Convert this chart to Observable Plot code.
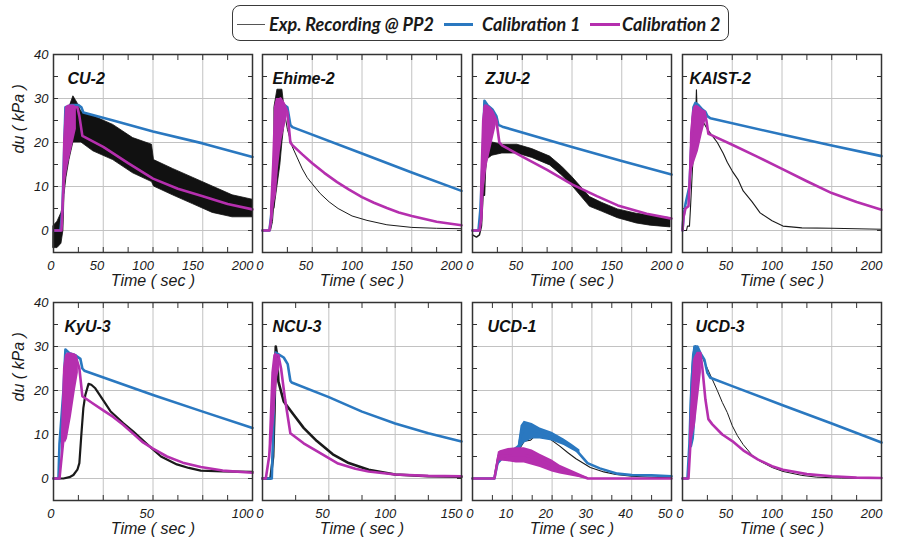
<!DOCTYPE html>
<html><head><meta charset="utf-8">
<script src="https://cdn.jsdelivr.net/npm/d3@7"></script>
<script src="https://cdn.jsdelivr.net/npm/@observablehq/plot@0.6"></script>
<style>
body{margin:0;background:#fff;}
#root{position:relative;width:898px;height:543px;overflow:hidden;font-family:"Liberation Sans",Arial,sans-serif;}
#root svg{position:absolute;overflow:visible;}
#legend{position:absolute;left:232px;top:5px;width:495px;height:34px;border:1.5px solid #3a3a3a;border-radius:8px;}
.sw{position:absolute;height:0;}
.lt{position:absolute;top:6px;font-family:Lato,"Open Sans",sans-serif;font-weight:bold;font-style:italic;font-size:18px;color:#1a1a1a;white-space:nowrap;line-height:24px;}
</style></head><body><div id="root"><div id="legend"></div></div><script>
// ---------------- series names / colours ----------------
const seriesNames = ["Exp. Recording @ PP2", "Calibration 1", "Calibration 2"];
const seriesColors = ["#555555", "#2a78c0", "#b52fae"];

// ---------------- axis ticks ----------------
const yTickLabels = [0, 10, 20, 30, 40];
const yGridVals = [0, 10, 20, 30];
const yMinor = [-5, 0, 5, 10, 15, 20, 25, 30, 35, 40];
const ticks200 = [0, 50, 100, 150, 200];
const grid200 = [50, 100, 150];
const minor200 = [0, 25, 50, 75, 100, 125, 150, 175, 200];
const ticks100 = [0, 50, 100];
const grid100 = [25, 50, 75];
const minor100 = [0, 12.5, 25, 37.5, 50, 62.5, 75, 87.5, 100];
const ticks150 = [0, 50, 100, 150];
const grid150 = [50, 100];
const minor150 = [0, 25, 50, 75, 100, 125, 150];
const ticks50 = [0, 10, 20, 30, 40, 50];
const grid50 = [10, 20, 30, 40];
const minor50 = [0, 5, 10, 15, 20, 25, 30, 35, 40, 45, 50];

// ---------------- CU-2 ----------------
const cu2ExpBand = [[0,-4,1],[4,-4,2],[8,-3,4],[10,0,6],[11,8,15],[13,12,22],[16,16,28],[20,20,30.5],[24,20,29],[28,20,27],[40,18,26],[60,16,24],[80,13,21],[99,11,19.5],[101,10,16],[120,8,14],[140,6,12],[160,4,10],[180,3,8],[200,3,7]];
const cu2Cal1 = [[0,0],[7,0],[9,5],[12,28],[18,28.5],[25,28.5],[28,28],[30,26.8],[60,25],[100,22.5],[150,19.8],[200,16.7]];
const cu2Cal2Band = [[9,2,5],[10,5,20],[12,11,28],[15,15,28.5],[18,18,28.5],[21,21,28.5],[23,23,28]];
const cu2Cal2 = [[0,0],[8,0],[11,15],[13,22],[16,27],[20,28],[24,28],[26,26],[29,21.5],[50,19],[75,15.3],[100,11.8],[125,9.5],[150,7.8],[175,6],[200,4.8]];

// ---------------- Ehime-2 ----------------
const ehExpBand = [[12,5,28],[15,10,32],[18,15,32],[20,20,32],[22,24,28]];
const ehExp = [[0,0],[8,0],[10,2],[12,8],[22,27],[25,23],[30,19],[35,16.5],[40,14],[45,12],[50,10.6],[58,8.4],[67,6.5],[76,5],[90,3.3],[105,2.3],[125,1.3],[150,0.7],[175,0.5],[200,0.4]];
const ehCal1 = [[0,0],[7,0],[9,4],[11,12],[14,29],[18,29],[22,28.5],[25,28],[28,24],[30,23.5],[100,17.5],[150,13.2],[200,9]];
const ehCal2Band = [[8,1,5],[10,3,15],[12,6,28],[14,8,30],[16,14,30],[18,18,30],[20,21,29.5],[23,24,28.5],[25,26,27]];
const ehCal2 = [[0,0],[7,0],[9,3],[11,10],[14,29],[18,30],[21,29],[25,27],[28,20],[30,19.4],[40,17.3],[50,15.3],[62,13.1],[75,11],[87,9.3],[100,7.6],[112,6.3],[125,5.1],[137,4.1],[150,3.3],[175,2],[200,1.2]];

// ---------------- ZJU-2 ----------------
const zjExp = [[0,-1],[4,-1.5],[7,-1],[9,1],[11,10],[12,8],[13,14],[15,18]];
const zjExpBand = [[14,16,19],[20,17,20],[30,17.5,19.5],[45,17.5,19.5],[60,16.5,18.5],[78,14.8,16.8],[90,12.5,14.5],[100,10.2,12.2],[118,5.4,7.6],[130,4.3,6.3],[146,2.8,4.8],[165,1.6,3.8],[179,1.1,3.4],[199,0.7,2.8]];
const zjCal1 = [[0,0],[6,0],[8,5],[10,15],[12,29.5],[15,28.5],[20,27.5],[24,26],[26,24],[30,23.6],[100,19],[150,15.8],[200,12.7]];
const zjCal2Band = [[8,1,10],[10,5,25],[12,10,28.5],[15,15,28.5],[18,18,28],[21,21,27],[24,24,25.5]];
const zjCal2 = [[0,0],[7,0],[9,3],[11,20],[12,28],[16,28],[20,27],[24,25],[27,20],[30,19.3],[50,16.8],[75,13.8],[100,10.5],[125,7.8],[146,5.7],[175,3.8],[200,2.7]];

// ---------------- KAIST-2 ----------------
const kaExp = [[0,0],[4,0],[5,1],[7,1],[8,5],[10,14],[12,20],[13,24],[14,32],[15,25],[16,28],[18,26.5],[20,25],[25,23],[30,21.5],[35,20],[41,17.5],[45,15.5],[50,13.5],[56,11.5],[61,9],[70,6.5],[78,4],[90,2.2],[101,1],[120,0.6],[150,0.5],[200,0.3]];
const kaCal1 = [[0,0],[1,3],[3,6],[5,8],[7,10],[9,20],[11,28],[13,29],[16,28.5],[20,27.5],[23,27],[25,26],[28,25.5],[100,21.8],[150,19.3],[200,16.9]];
const kaCal2Band = [[7,6,10],[8,10,22],[10,14,27],[13,16,28.5],[16,18,28.3],[20,22,27.5],[24,25.5,27]];
const kaCal2 = [[0,0],[1,3],[3,5],[6,5.5],[8,15],[10,25],[12,28],[15,28],[20,27],[22,27],[24,25],[26,22],[28,21.8],[50,19.5],[75,16.8],[100,14],[125,11.2],[150,8.5],[175,6.5],[200,4.7]];

// ---------------- KyU-3 ----------------
const kyExp = [[0,0],[5,0],[8,0.3],[10,0.8],[12,2],[13,3.5],[14,10],[15,16],[16,19],[17.6,21.5],[19,21.3],[21,20.5],[23.6,18.7],[28.6,15.3],[35,12.6],[40,10.7],[47,7.8],[54,5],[62,3.2],[68,2.4],[74,1.8],[85,1.6],[100,1.5]];
const kyCal1 = [[0,0],[2.5,0],[3,7.8],[5,20],[6,29.3],[8,28.5],[11,28],[13.5,27.2],[14.5,25],[15.5,24.5],[50,19],[75,15.2],[100,11.5]];
const kyCal2Band = [[4,2,10],[5,9,25],[6,8,28],[7,9,28.5],[9,14,28.5],[11,20,28.3],[12.5,24,27]];
const kyCal2 = [[0,0],[3,0],[5,9],[6,20],[7,27],[9,28],[11,28],[13,25],[14.5,18.7],[20,17],[25,15.5],[30,14],[35,12.2],[40,10.2],[45,8.2],[50,6.8],[57,5],[65,3.6],[74,2.6],[85,1.8],[100,1.3]];

// ---------------- NCU-3 ----------------
const ncExp = [[0,0],[6,0],[8,5],[9,15],[10,30],[11,28],[12,22],[16,17.5],[23.5,14.5],[31,11.5],[41,8.5],[53,5.5],[65,3.5],[80,2],[100,0.9],[125,0.5],[150,0.4]];
const ncCal1 = [[0,0],[7,0],[8,10],[9,22],[10,28.6],[16,27.5],[19,26],[21,22.2],[22,21.8],[50,18.5],[75,15.2],[100,12.5],[125,10.3],[150,8.4]];
const ncCal2Band = [[5,3,8],[7,8,24],[8.5,12,28],[10,18,28.5],[11.5,23,28],[13,25,26]];
const ncCal2 = [[0,0],[2.5,0],[5,5],[8,15],[10,28],[12,28],[14,25],[17,18],[21,10.3],[31,8],[41,6.2],[57,3.4],[70,2.2],[80,1.6],[100,0.9],[125,0.6],[150,0.5]];

// ---------------- UCD-1 ----------------
const u1Exp = [[0,0],[5.5,0],[6.2,3.2],[7,4.5],[8.7,4.8],[10,5.8],[12,7],[13,8.5],[14.6,8.7],[16,10],[18,9.5],[19.6,8.9],[22,7.3],[23.9,5.9],[26,4.5],[29.6,2.5],[33,1.5],[36,0.9],[40,0.5],[45,0.3],[50,0.2]];
const u1Cal1Band = [[5.5,0,0.5],[6.5,3,5.5],[8,4.5,6],[10,5,6.5],[11.5,5.5,7.5],[12.2,7,12],[13,8,13],[15,9,12.5],[17,9,11.5],[20,8.5,10.5],[23,7.5,9],[25,6.5,7.8],[27,5.5,6.5]];
const u1Cal1 = [[0,0],[5.5,0],[6.5,4.5],[8,5.5],[10,6],[11.5,6.5],[12.2,10],[13,11],[15,11],[17,10.5],[20,9.5],[23,8.2],[26,6.5],[28.9,3.5],[32,2.3],[36.4,1.1],[40,0.8],[45,0.7],[50,0.5]];
const u1Cal2Band = [[5.5,0,0.5],[6.5,4,6],[7,4,6.3],[9,3.8,6.8],[11,3.5,7],[13,3.5,7],[15,3,6.5],[17,2.5,5.5],[20,1.5,4.2],[22,1,3],[25,0.5,1.8],[28,0,0.6],[29,0,0.2]];
const u1Cal2 = [[0,0],[5.5,0],[6.5,5],[10,5.3],[13,5.3],[16,4.6],[20,3],[22,2.3],[25,1.2],[29,0],[50,0]];

// ---------------- UCD-3 ----------------
const u3Exp = [[0,0],[6,0],[8,10],[10,22],[12,29],[13,30.2],[16,29],[20,27.5],[25,25],[30,22.5],[35,20],[40,17.3],[45,15],[50,12],[55,9.8],[61,7.7],[70,5.3],[78,3.9],[90,2.5],[101,1.6],[120,0.7],[135,0.3],[160,0.1],[200,0]];
const u3Cal1Band = [[7,5,10],[8,7,20],[10,7,28],[12,9,30],[14,15,30],[16,22,29.5],[18,26,28.5]];
const u3Cal1 = [[0,0],[5,0],[7,8],[8,15],[10,25],[12,30],[15,30],[18,28.5],[22,27],[25,24],[28,22.9],[50,21],[100,16.7],[150,12.5],[200,8.2]];
const u3Cal2Band = [[7,3,10],[9,8,20],[11,10,27],[13,12,28],[15,16,28.5],[17,20,28.5],[19,24,27]];
const u3Cal2 = [[0,0],[6,0],[8,8],[10,18],[12,25],[15,28.5],[18,28.5],[20,25],[23,18],[26,13.5],[30,12.3],[40,10],[50,8.5],[61,6.4],[76,4.3],[90,2.8],[101,2],[125,1],[150,0.5],[175,0.2],[200,0.1]];

// ---------------- panel layout ----------------
const panels = [
  {name:"CU-2", left:53, top:54, first:true, dom:[0,200], ticks:ticks200, grid:grid200, minor:minor200, tdx:14, expBand:cu2ExpBand, exp:null, expW:1, c1:cu2Cal1, c2Band:cu2Cal2Band, c2:cu2Cal2},
  {name:"Ehime-2", left:262, top:54, dom:[0,200], ticks:ticks200, grid:grid200, minor:minor200, tdx:10, expBand:ehExpBand, exp:ehExp, expW:1, c1:ehCal1, c2Band:ehCal2Band, c2:ehCal2},
  {name:"ZJU-2", left:472, top:54, dom:[0,200], ticks:ticks200, grid:grid200, minor:minor200, tdx:13, expBand:zjExpBand, exp:zjExp, expW:1.5, c1:zjCal1, c2Band:zjCal2Band, c2:zjCal2},
  {name:"KAIST-2", left:682, top:54, dom:[0,200], ticks:ticks200, grid:grid200, minor:minor200, tdx:7, exp:kaExp, expW:1.1, c1:kaCal1, c2Band:kaCal2Band, c2:kaCal2},
  {name:"KyU-3", left:53, top:302, first:true, dom:[0,100], ticks:ticks100, grid:grid100, minor:minor100, tdx:11, exp:kyExp, expW:2.2, c1:kyCal1, c2Band:kyCal2Band, c2:kyCal2},
  {name:"NCU-3", left:262, top:302, dom:[0,150], ticks:ticks150, grid:grid150, minor:minor150, tdx:10, exp:ncExp, expW:2.6, c1:ncCal1, c2Band:ncCal2Band, c2:ncCal2},
  {name:"UCD-1", left:472, top:302, dom:[0,50], ticks:ticks50, grid:grid50, minor:minor50, tdx:15, exp:u1Exp, expW:1.1, c1Band:u1Cal1Band, c1:u1Cal1, c2Band:u1Cal2Band, c2:u1Cal2},
  {name:"UCD-3", left:682, top:302, dom:[0,200], ticks:ticks200, grid:grid200, minor:minor200, tdx:13, exp:u3Exp, expW:1, c1Band:u3Cal1Band, c1:u3Cal1, c2Band:u3Cal2Band, c2:u3Cal2}
];

const root = document.getElementById("root");
const FONT = "Liberation Sans";
const W = 199, H = 198, MT = 10, MR = 14, MB = 46;
const gridStyle = {stroke:"#c2c2c2", strokeOpacity:1, strokeWidth:1};
const tickStyle = {tickFormat:() => "", label:null, stroke:"#333", strokeWidth:1};
const fx = d => d[0], fy = d => d[1], fy1 = d => d[1], fy2 = d => d[2];

for (const p of panels) {
  const ML = p.first ? 53 : 10;
  const marks = [
    Plot.gridX(p.grid, gridStyle),
    Plot.gridY(yGridVals, gridStyle),
    Plot.axisX(p.minor, {anchor:"bottom", tickSize:5, dy:-5, ...tickStyle}),
    Plot.axisX(p.minor, {anchor:"top", tickSize:5, dy:5, ...tickStyle}),
    Plot.axisY(yMinor, {anchor:"left", tickSize:5, dx:5, ...tickStyle}),
    Plot.axisY(yMinor, {anchor:"right", tickSize:5, dx:-5, ...tickStyle}),
    Plot.axisX(p.ticks, {anchor:"bottom", tickSize:0, tickPadding:8, label:null, fontSize:13, fontStyle:"italic", fontFamily:FONT, textAnchor:"end", dx:1, fill:"#1a1a1a"}),
    p.first ? Plot.axisY(yTickLabels, {anchor:"left", tickSize:0, tickPadding:5, label:null, fontSize:13, fontStyle:"italic", fontFamily:FONT, fill:"#1a1a1a"}) : null,
    p.expBand ? Plot.areaY(p.expBand, {x:fx, y1:fy1, y2:fy2, fill:"#111", stroke:"#111", strokeWidth:0.8}) : null,
    p.exp ? Plot.line(p.exp, {x:fx, y:fy, stroke:"#1a1a1a", strokeWidth:p.expW}) : null,
    p.c1Band ? Plot.areaY(p.c1Band, {x:fx, y1:fy1, y2:fy2, fill:seriesColors[1]}) : null,
    Plot.line(p.c1, {x:fx, y:fy, stroke:seriesColors[1], strokeWidth:2.6}),
    p.c2Band ? Plot.areaY(p.c2Band, {x:fx, y1:fy1, y2:fy2, fill:seriesColors[2]}) : null,
    Plot.line(p.c2, {x:fx, y:fy, stroke:seriesColors[2], strokeWidth:2.6}),
    Plot.frame({stroke:"#333", strokeWidth:1.5}),
    Plot.text([p.name], {frameAnchor:"top-left", dx:p.tdx, dy:29, lineAnchor:"bottom", textAnchor:"start", fontWeight:"bold", fontStyle:"italic", fontSize:16, fontFamily:FONT, fill:"#111"}),
    Plot.text(["Time ( sec )"], {frameAnchor:"bottom", dy:33, fontSize:16, fontStyle:"italic", fontFamily:FONT, fill:"#1a1a1a"}),
    p.first ? Plot.text(["du ( kPa )"], {frameAnchor:"left", dx:-35, rotate:-90, fontSize:16, fontStyle:"italic", fontFamily:FONT, fill:"#1a1a1a"}) : null
  ].filter(Boolean);
  const svg = Plot.plot({
    width: ML + W + MR, height: MT + H + MB,
    marginLeft: ML, marginRight: MR, marginTop: MT, marginBottom: MB,
    x: {domain: p.dom},
    y: {domain: [-5, 40]},
    style: {background:"none", fontFamily:FONT, overflow:"visible", maxWidth:"none"},
    marks
  });
  svg.style.left = (p.left - ML) + "px";
  svg.style.top = (p.top - MT) + "px";
  root.appendChild(svg);
}

// ---------------- legend ----------------
const legend = document.getElementById("legend");
const legPos = [{sw:[4,28,1.4], tx:36}, {sw:[211,29,3], tx:249}, {sw:[357,30,3], tx:389}];
seriesNames.forEach((name, i) => {
  const s = document.createElement("div");
  s.className = "sw";
  s.style.left = legPos[i].sw[0] + "px";
  s.style.width = legPos[i].sw[1] + "px";
  s.style.top = (18.5 - legPos[i].sw[2] / 2) + "px";
  s.style.borderTop = legPos[i].sw[2] + "px solid " + seriesColors[i];
  legend.appendChild(s);
  const t = document.createElement("div");
  t.className = "lt";
  t.style.left = legPos[i].tx + "px";
  t.textContent = name;
  legend.appendChild(t);
});
</script></body></html>
